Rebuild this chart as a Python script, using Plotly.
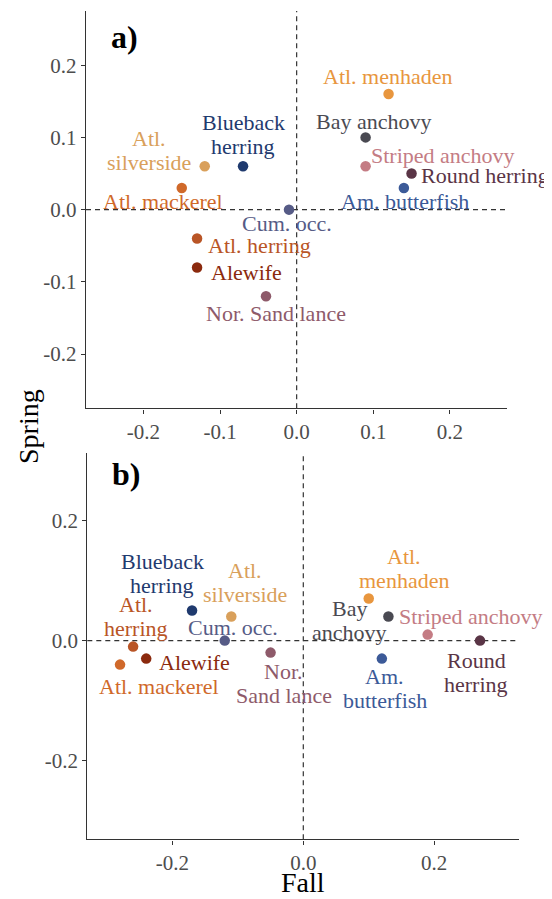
import plotly.graph_objects as go

# ---------------- data ----------------
species = ["Atl. menhaden", "Bay anchovy", "Striped anchovy", "Round herring",
           "Am. butterfish", "Cum. occ.", "Blueback herring", "Atl. silverside",
           "Atl. mackerel", "Atl. herring", "Alewife", "Nor. Sand lance"]

# panel a)
fall_a = [0.12, 0.09, 0.09, 0.15, 0.14, -0.01, -0.07, -0.12, -0.15, -0.13, -0.13, -0.04]
spring_a = [0.16, 0.10, 0.06, 0.05, 0.03, 0.00, 0.06, 0.06, 0.03, -0.04, -0.08, -0.12]
labels_a = ["Atl. menhaden", "Bay anchovy", "Striped anchovy", "Round herring",
            "Am. butterfish", "Cum. occ.", "Blueback<br>herring", "Atl.<br>silverside",
            "Atl. mackerel", "Atl. herring", "Alewife", "Nor. Sand lance"]

# panel b)
fall_b = [0.10, 0.13, 0.19, 0.27, 0.12, -0.12, -0.17, -0.11, -0.28, -0.26, -0.24, -0.05]
spring_b = [0.07, 0.04, 0.01, 0.00, -0.03, 0.00, 0.05, 0.04, -0.04, -0.01, -0.03, -0.02]
labels_b = ["Atl.<br>menhaden", "Bay<br>anchovy", "Striped anchovy", "Round<br>herring",
            "Am.<br>butterfish", "Cum. occ.", "Blueback<br>herring", "Atl.<br>silverside",
            "Atl. mackerel", "Atl.<br>herring", "Alewife", "Nor.<br>Sand lance"]

ticks_a = [-0.2, -0.1, 0.0, 0.1, 0.2]
ticktext_a = ["-0.2", "-0.1", "0.0", "0.1", "0.2"]
ticks_b = [-0.2, 0.0, 0.2]
ticktext_b = ["-0.2", "0.0", "0.2"]

# ---------------- styles ----------------
colors = ["#E8963E", "#4A4A52", "#C47C84", "#5A3546", "#3C5A98", "#565B86",
          "#1F3A6E", "#D9A05B", "#D0692A", "#B95526", "#8B2A0E", "#8E5A6A"]

# label offsets in pixels (dx right, dy up) relative to each point
off_a = [(-1, 18), (8, 16), (77, 11), (73, -2), (1, -14), (-2, -14),
         (0, 32), (-56, 16), (-19, -14), (62, -7), (49, -5), (10, -17)]
off_b = [(35, 30), (-39, -4), (43, 18), (-4, -32), (3, -30), (8, 13),
         (-30, 37), (14, 34), (39, -22), (3, 30), (48, -4), (13, -31)]

FONT = "Liberation Serif"
LABEL_SIZE = 22
LINE_GAP = 24

# page has an 8px body margin: figure occupies page pixels 8..552 / 8..899
OFF = 8
W, H = 552 - OFF, 899 - OFF


def px(xpage):
    return (xpage - OFF) / W


def py(ypage):
    return 1 - (ypage - OFF) / H


fig = go.Figure()

fig.add_trace(go.Scatter(x=fall_a, y=spring_a, mode="markers", xaxis="x", yaxis="y",
                         marker=dict(size=10.5, color=colors), hoverinfo="skip",
                         showlegend=False))
fig.add_trace(go.Scatter(x=fall_b, y=spring_b, mode="markers", xaxis="x2", yaxis="y2",
                         marker=dict(size=10.5, color=colors), hoverinfo="skip",
                         showlegend=False))

annotations = []
for xs, ys, labs, offs, xr, yr in [(fall_a, spring_a, labels_a, off_a, "x", "y"),
                                    (fall_b, spring_b, labels_b, off_b, "x2", "y2")]:
    for xv, yv, lab, (dx, dy), col in zip(xs, ys, labs, offs, colors):
        lines = lab.split("<br>")
        n = len(lines)
        for i, line in enumerate(lines):
            annotations.append(dict(x=xv, y=yv, xref=xr, yref=yr, text=line, showarrow=False,
                                    xanchor="center", yanchor="middle", xshift=dx,
                                    yshift=dy + (n - 1) / 2 * LINE_GAP - i * LINE_GAP,
                                    font=dict(family=FONT, size=LABEL_SIZE, color=col)))

# panel letters
annotations.append(dict(x=px(124), y=py(37), xref="paper", yref="paper", text="<b>a)</b>",
                        showarrow=False, xanchor="center", yanchor="middle",
                        font=dict(family=FONT, size=32, color="black")))
annotations.append(dict(x=px(126), y=py(474), xref="paper", yref="paper", text="<b>b)</b>",
                        showarrow=False, xanchor="center", yanchor="middle",
                        font=dict(family=FONT, size=32, color="black")))
# axis titles
annotations.append(dict(x=px(28), y=py(427), xref="paper", yref="paper", text="Spring",
                        textangle=-90, showarrow=False, xanchor="center", yanchor="middle",
                        font=dict(family=FONT, size=28, color="black")))
annotations.append(dict(x=px(303), y=py(882), xref="paper", yref="paper", text="Fall",
                        showarrow=False, xanchor="center", yanchor="middle",
                        font=dict(family=FONT, size=28, color="black")))

dash = dict(color="#333333", width=1.2, dash="5px,4px")
shapes = [
    dict(type="line", xref="x", yref="y domain", x0=0, x1=0, y0=0, y1=1, line=dash, layer="below"),
    dict(type="line", xref="x domain", yref="y", x0=0, x1=1, y0=0, y1=0, line=dash, layer="below"),
    dict(type="line", xref="x2", yref="y2 domain", x0=0, x1=0, y0=0, y1=1, line=dash, layer="below"),
    dict(type="line", xref="x2 domain", yref="y2", x0=0, x1=1, y0=0, y1=0, line=dash, layer="below"),
]

axis_style = dict(showline=True, linecolor="#333333", linewidth=1.4, ticks="outside",
                  ticklen=4, tickwidth=1.2, tickcolor="#333333", showgrid=False,
                  zeroline=False, tickfont=dict(family=FONT, size=21, color="#4D4D4D"))

fig.update_layout(
    width=W, height=H,
    margin=dict(l=0, r=0, t=0, b=0),
    plot_bgcolor="white", paper_bgcolor="white",
    xaxis=dict(domain=[px(86), px(507.3)], anchor="y", range=[-0.275, 0.275],
               tickvals=ticks_a, ticktext=ticktext_a, **axis_style),
    yaxis=dict(domain=[py(408.3), py(11)], anchor="x", range=[-0.275, 0.275],
               tickvals=ticks_a, ticktext=ticktext_a, **axis_style),
    xaxis2=dict(domain=[px(87.3), px(519.3)], anchor="y2", range=[-0.33, 0.33],
                tickvals=ticks_b, ticktext=ticktext_b, **axis_style),
    yaxis2=dict(domain=[py(839.3), py(452.7)], anchor="x2", range=[-0.331, 0.313],
                tickvals=ticks_b, ticktext=ticktext_b, **axis_style),
    annotations=annotations,
    shapes=shapes,
    showlegend=False,
)

fig.write_html("out.html")
